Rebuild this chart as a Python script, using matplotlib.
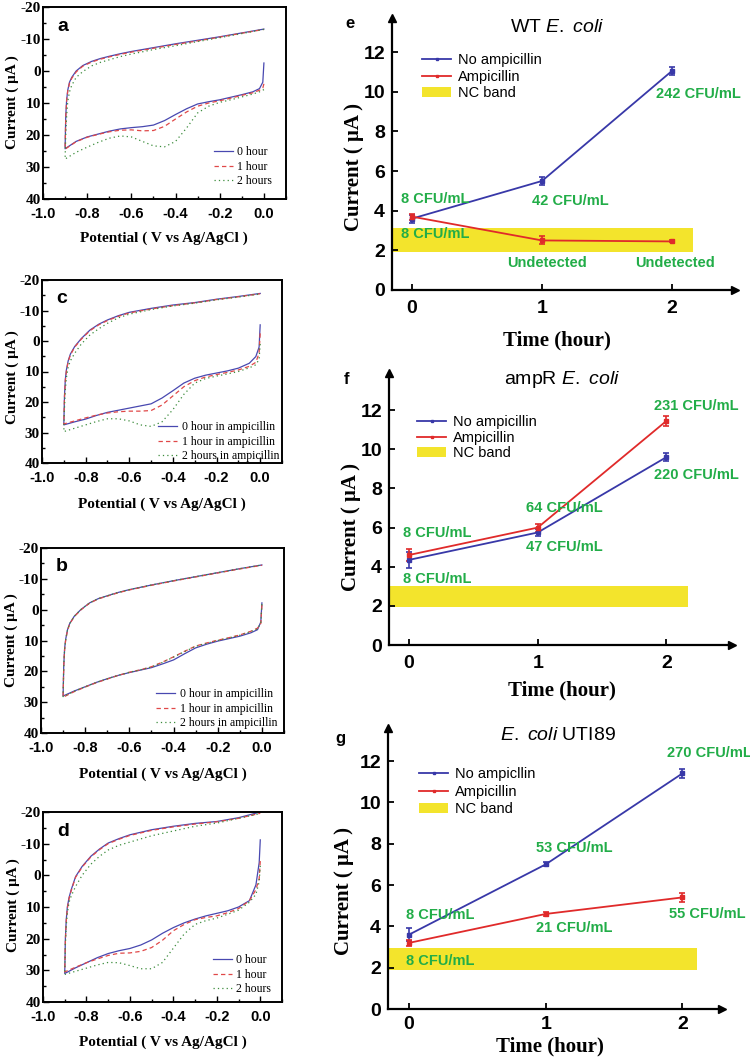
import numpy as np
import matplotlib.pyplot as plt
import matplotlib.ticker as tck
from matplotlib.lines import Line2D
from matplotlib.patches import Patch

plt.rcParams['axes.unicode_minus'] = False
plt.rcParams['mathtext.fontset'] = 'custom'
plt.rcParams['mathtext.rm'] = 'Liberation Sans'
plt.rcParams['mathtext.it'] = 'Liberation Sans:italic'

SERIF = 'Liberation Serif'
SANS = 'Liberation Sans'

# ---- cyclic voltammograms (potential grid shared by all curves) ----
# lower (cathodic) branch from 0.0 V to -0.9 V, then upper branch back to 0.0 V
E_low = [0.0, -0.005, -0.02, -0.05, -0.1, -0.15, -0.2, -0.25, -0.3, -0.35, -0.4,
         -0.45, -0.5, -0.55, -0.6, -0.65, -0.7, -0.75, -0.8, -0.85, -0.9]
E_high = [-0.9, -0.897, -0.893, -0.888, -0.88, -0.87, -0.85, -0.82, -0.78, -0.74,
          -0.7, -0.65, -0.6, -0.5, -0.4, -0.3, -0.2, -0.1, 0.0]

# panel a : 0, 1, 2 hours
a0_low = [-2.5, 3.5, 5.5, 6.5, 7.4, 8.2, 9.0, 9.6, 10.3, 11.8, 13.6, 15.5, 16.9, 17.4, 17.7, 18.1, 18.8, 19.7, 20.6, 22.0, 24.3]
a0_high = [24.3, 14.0, 9.0, 6.0, 3.5, 2.0, 0.0, -1.7, -3.0, -3.9, -4.6, -5.4, -6.1, -7.3, -8.5, -9.6, -10.7, -11.9, -13.1]
a1_low = [4.0, 5.3, 6.0, 6.8, 7.6, 8.5, 9.3, 10.0, 11.0, 12.8, 15.0, 17.3, 18.6, 18.7, 18.4, 18.5, 19.0, 19.8, 20.7, 22.1, 24.4]
a1_high = [24.4, 14.5, 9.3, 6.3, 3.8, 2.3, 0.3, -1.5, -2.8, -3.7, -4.4, -5.2, -5.9, -7.1, -8.3, -9.4, -10.6, -11.8, -13.0]
a2_low = [5.8, 6.0, 6.5, 7.2, 8.1, 9.0, 9.8, 11.0, 13.1, 17.8, 22.0, 23.7, 23.4, 22.0, 20.6, 20.3, 21.0, 22.3, 23.8, 25.4, 27.5]
a2_high = [27.5, 20.0, 14.0, 9.5, 6.5, 4.5, 2.0, 0.2, -1.6, -2.7, -3.5, -4.5, -5.3, -6.7, -7.9, -9.2, -10.4, -11.7, -13.0]

# panel c : 0, 1, 2 hours in ampicillin
c0_low = [-5.3, 2.0, 5.1, 7.3, 8.9, 9.8, 10.5, 11.2, 12.2, 13.8, 16.3, 18.7, 20.6, 21.3, 22.0, 22.7, 23.4, 24.4, 25.6, 26.5, 27.5]
c0_high = [27.5, 18.0, 12.5, 9.4, 6.5, 4.3, 1.8, -0.8, -3.6, -5.5, -6.9, -8.3, -9.4, -10.7, -11.8, -12.6, -13.7, -14.6, -15.6]
c1_low = [-2.5, 4.0, 7.0, 8.3, 9.5, 10.3, 11.0, 11.8, 13.0, 15.0, 18.0, 21.0, 22.8, 23.0, 23.0, 23.2, 23.6, 24.3, 25.2, 26.2, 27.2]
c1_high = [27.2, 18.5, 13.0, 9.8, 6.8, 4.6, 2.0, -0.6, -3.4, -5.3, -6.7, -8.1, -9.2, -10.5, -11.6, -12.5, -13.6, -14.5, -15.5]
c2_low = [1.0, 6.0, 7.8, 8.8, 10.0, 10.8, 11.5, 12.3, 13.8, 17.5, 22.5, 26.5, 28.0, 27.5, 26.2, 25.5, 25.5, 26.4, 27.5, 28.6, 29.7]
c2_high = [29.7, 22.0, 16.0, 12.0, 8.5, 6.5, 4.0, 1.0, -2.0, -4.0, -5.8, -7.6, -8.8, -10.3, -11.5, -12.4, -13.5, -14.4, -15.4]

# panel b : 0, 1, 2 hours in ampicillin
b0_low = [-2.2, 4.0, 6.5, 7.5, 8.6, 9.4, 10.2, 11.2, 12.4, 14.3, 16.3, 17.6, 18.8, 19.6, 20.4, 21.3, 22.4, 23.6, 25.0, 26.4, 28.0]
b0_high = [28.0, 18.0, 12.5, 9.5, 6.5, 4.5, 2.2, 0.0, -2.2, -3.6, -4.5, -5.6, -6.5, -8.0, -9.4, -10.7, -12.0, -13.3, -14.5]
b1_low = [-1.5, 4.5, 6.0, 7.0, 8.2, 9.1, 9.9, 10.8, 11.8, 13.5, 15.3, 17.0, 18.5, 19.5, 20.3, 21.3, 22.5, 23.7, 25.1, 26.6, 28.4]
b1_high = [28.4, 18.3, 12.8, 9.7, 6.7, 4.6, 2.3, 0.1, -2.1, -3.5, -4.4, -5.5, -6.4, -7.9, -9.3, -10.6, -11.9, -13.2, -14.4]
b2_low = [-1.8, 4.3, 6.2, 7.1, 8.3, 9.2, 10.0, 10.9, 11.9, 13.6, 15.4, 17.1, 18.6, 19.5, 20.3, 21.3, 22.4, 23.6, 25.0, 26.5, 28.2]
b2_high = [28.2, 18.2, 12.7, 9.6, 6.6, 4.5, 2.2, 0.0, -2.2, -3.6, -4.5, -5.6, -6.5, -8.0, -9.4, -10.7, -12.0, -13.3, -14.5]

# panel d : 0, 1, 2 hours
d0_low = [-11.2, -4.0, 3.0, 8.0, 10.0, 11.2, 12.0, 12.8, 13.8, 15.0, 16.5, 18.3, 20.4, 22.0, 23.1, 23.8, 24.7, 26.0, 27.6, 29.2, 31.0]
d0_high = [31.0, 20.0, 14.0, 10.0, 7.0, 4.5, 0.4, -2.8, -6.0, -8.3, -10.2, -11.6, -12.8, -14.4, -15.5, -16.4, -17.0, -18.2, -20.0]
d1_low = [-4.5, 1.0, 4.5, 8.0, 10.5, 11.8, 12.8, 13.3, 14.0, 15.5, 17.5, 20.5, 22.8, 24.0, 24.5, 24.6, 25.3, 26.4, 27.6, 29.0, 30.5]
d1_high = [30.5, 20.5, 14.5, 10.5, 7.3, 4.8, 0.6, -2.6, -5.8, -8.1, -10.0, -11.4, -12.6, -14.2, -15.3, -16.2, -16.9, -18.0, -19.6]
d2_low = [-3.0, 2.0, 6.0, 8.5, 11.0, 12.3, 13.5, 14.3, 15.5, 18.5, 23.0, 27.5, 29.5, 29.5, 28.5, 27.6, 27.5, 28.3, 29.3, 30.3, 31.3]
d2_high = [31.3, 22.0, 16.0, 12.0, 8.5, 6.5, 3.5, 0.0, -3.5, -6.0, -8.0, -9.5, -10.5, -12.5, -14.0, -15.5, -16.5, -18.0, -19.5]

cv_labels_plain = ['0 hour', '1 hour', '2 hours']
cv_labels_amp = ['0 hour in ampicillin', '1 hour in ampicillin', '2 hours in ampicillin']

# ---- current vs time ----
hours = [0, 1, 2]
e_noamp, e_noamp_err = [3.6, 5.5, 11.05], [0.2, 0.2, 0.2]
e_amp, e_amp_err = [3.7, 2.5, 2.45], [0.15, 0.2, 0.05]
f_noamp, f_noamp_err = [4.35, 5.75, 9.6], [0.4, 0.2, 0.2]
f_amp, f_amp_err = [4.6, 6.0, 11.45], [0.3, 0.2, 0.25]
g_noamp, g_noamp_err = [3.6, 7.0, 11.4], [0.3, 0.1, 0.2]
g_amp, g_amp_err = [3.2, 4.6, 5.4], [0.15, 0.1, 0.2]

e_notes = [('8 CFU/mL', -0.085, 4.6, 'left'), ('8 CFU/mL', -0.085, 2.8, 'left'),
           ('42 CFU/mL', 1.22, 4.5, 'center'), ('242 CFU/mL', 2.2, 9.9, 'center'),
           ('Undetected', 1.04, 1.35, 'center'), ('Undetected', 2.02, 1.35, 'center')]
f_notes = [('8 CFU/mL', -0.047, 5.7, 'left'), ('8 CFU/mL', -0.047, 3.35, 'left'),
           ('64 CFU/mL', 1.21, 7.0, 'center'), ('47 CFU/mL', 1.21, 5.0, 'center'),
           ('231 CFU/mL', 2.23, 12.2, 'center'), ('220 CFU/mL', 2.23, 8.7, 'center')]
g_notes = [('8 CFU/mL', -0.02, 4.55, 'left'), ('8 CFU/mL', -0.02, 2.3, 'left'),
           ('53 CFU/mL', 1.21, 7.8, 'center'), ('21 CFU/mL', 1.21, 3.9, 'center'),
           ('270 CFU/mL', 2.2, 12.4, 'center'), ('55 CFU/mL', 2.18, 4.6, 'center')]

W, H = 750, 1057
fig = plt.figure(figsize=(7.5, 10.57), dpi=100)

cv_blue, cv_red, cv_green = '#4848b0', '#e04848', '#3c8c3c'
blue, red, green, yellow = '#3838a8', '#e02a2a', '#22ad48', '#f3e42c'


def add_ax(l, t, r, b):
    return fig.add_axes([l / W, 1 - b / H, (r - l) / W, (b - t) / H])


def ftext(x, y, s, **kw):
    fig.text(x / W, 1 - y / H, s, **kw)


def plot_cv(box, letter, curves, labels, leg_xy, ylab_xy, xlab_xy):
    ax = add_ax(*box)
    styles = [dict(color=cv_blue, ls='-'),
              dict(color=cv_red, ls=(0, (3.5, 2.5))),
              dict(color=cv_green, ls=(0, (1, 2.5)))]
    for (low, high), lab, st in zip(curves, labels, styles):
        ax.plot(E_low + E_high, low + high, lw=0.9, label=lab, **st)
    ax.set_xlim(-1.0, 0.1)
    ax.set_ylim(40, -20)
    ax.xaxis.set_major_locator(tck.MultipleLocator(0.2))
    ax.xaxis.set_minor_locator(tck.MultipleLocator(0.1))
    ax.yaxis.set_major_locator(tck.MultipleLocator(10))
    ax.yaxis.set_minor_locator(tck.MultipleLocator(5))
    ax.xaxis.set_major_formatter(tck.FormatStrFormatter('%.1f'))
    ax.tick_params(which='both', direction='in', top=False, right=False, width=1.0)
    ax.tick_params(which='major', length=4)
    ax.tick_params(which='minor', length=2.5)
    ax.tick_params(axis='x', pad=5.5)
    ax.tick_params(axis='y', pad=1.5)
    for sp in ax.spines.values():
        sp.set_linewidth(1.4)
    for lb in ax.get_xticklabels():
        lb.set_fontfamily(SANS)
        lb.set_fontweight('bold')
        lb.set_fontsize(10.5)
    for lb in ax.get_yticklabels():
        lb.set_fontfamily(SERIF)
        lb.set_fontweight('bold')
        lb.set_fontsize(11)
    ax.legend(loc='lower right', bbox_to_anchor=(leg_xy[0] / W, 1 - leg_xy[1] / H),
              bbox_transform=fig.transFigure, frameon=False, borderpad=0,
              borderaxespad=0, handlelength=1.6, handletextpad=0.35, labelspacing=0.2,
              prop=dict(family=SERIF, size=8.5))
    ax.text(0.06, 0.9, letter, transform=ax.transAxes, fontfamily=SANS,
            fontweight='bold', fontsize=14, va='center', ha='left')
    ftext(ylab_xy[0], ylab_xy[1], 'Current ( μA )', rotation=90, ha='center', va='center',
          fontfamily=SERIF, fontweight='bold', fontsize=11)
    ftext(xlab_xy[0], xlab_xy[1], 'Potential ( V vs Ag/AgCl )', ha='center', va='center',
          fontfamily=SERIF, fontweight='bold', fontsize=11)
    return ax


plot_cv((43, 7, 286, 199), 'a', [(a0_low, a0_high), (a1_low, a1_high), (a2_low, a2_high)],
        cv_labels_plain, (272, 187), (12, 102), (164, 238))
plot_cv((42, 280, 282, 463), 'c', [(c0_low, c0_high), (c1_low, c1_high), (c2_low, c2_high)],
        cv_labels_amp, (279, 462), (12, 377), (162, 504))
plot_cv((41, 548, 284, 733), 'b', [(b0_low, b0_high), (b1_low, b1_high), (b2_low, b2_high)],
        cv_labels_amp, (277, 729), (11, 640), (163, 774))
plot_cv((43, 812, 282, 1002), 'd', [(d0_low, d0_high), (d1_low, d1_high), (d2_low, d2_high)],
        cv_labels_plain, (271, 995), (13, 905), (163, 1042))


def plot_time(box, xlim, ylim, band, title, letter, noamp, noamp_err, amp, amp_err,
              notes, noamp_label, leg_xy, leg_space, ylab_xy, xlab_xy, letter_xy, title_xy,
              xpad=7):
    ax = add_ax(*box)
    ax.set_xlim(*xlim)
    ax.set_ylim(*ylim)
    ax.fill_between([xlim[0], band[2]], band[0], band[1], color=yellow, lw=0, zorder=1)
    ax.errorbar(hours, noamp, yerr=noamp_err, color=blue, lw=1.3, marker='s', ms=2.5,
                capsize=2.5, elinewidth=1.2, capthick=1.2, zorder=3)
    ax.errorbar(hours, amp, yerr=amp_err, color=red, lw=1.3, marker='s', ms=2.5,
                capsize=2.5, elinewidth=1.2, capthick=1.2, zorder=3)
    for s, x, y, ha in notes:
        ax.text(x, y, s, ha=ha, va='center', color=green, fontfamily=SANS,
                fontweight='bold', fontsize=10.5, zorder=4)
    ax.spines['top'].set_visible(False)
    ax.spines['right'].set_visible(False)
    for sp in ('left', 'bottom'):
        ax.spines[sp].set_linewidth(1.6)
    ax.plot(1, 0, '>k', ms=6, transform=ax.get_yaxis_transform(), clip_on=False)
    ax.plot(0, 1, '^k', ms=6, transform=ax.transAxes, clip_on=False)
    ax.set_xticks(hours)
    ax.set_yticks([0, 2, 4, 6, 8, 10, 12])
    ax.tick_params(direction='in', length=4, width=1.3)
    ax.tick_params(axis='x', pad=xpad)
    ax.tick_params(axis='y', pad=5)
    for lb in ax.get_xticklabels() + ax.get_yticklabels():
        lb.set_fontfamily(SANS)
        lb.set_fontweight('bold')
        lb.set_fontsize(14)
    handles = [Line2D([], [], color=blue, lw=1.3, marker='s', ms=2),
               Line2D([], [], color=red, lw=1.3, marker='s', ms=2),
               Patch(facecolor=yellow, edgecolor='none')]
    ax.legend(handles, [noamp_label, 'Ampicillin', 'NC band'], loc='upper left',
              bbox_to_anchor=(leg_xy[0] / W, 1 - leg_xy[1] / H), bbox_transform=fig.transFigure,
              frameon=False, borderpad=0, borderaxespad=0, handlelength=2.0,
              handletextpad=0.5, labelspacing=leg_space, prop=dict(family=SANS, size=10.5))
    ftext(letter_xy[0], letter_xy[1], letter, ha='center', va='center', fontfamily=SANS,
          fontweight='bold', fontsize=12)
    ftext(title_xy[0], title_xy[1], title, ha='center', va='center', fontfamily=SANS, fontsize=14)
    ftext(ylab_xy[0], ylab_xy[1], 'Current ( μA )', rotation=90, ha='center', va='center',
          fontfamily=SERIF, fontweight='bold', fontsize=15)
    ftext(xlab_xy[0], xlab_xy[1], 'Time (hour)', ha='center', va='center',
          fontfamily=SERIF, fontweight='bold', fontsize=15)
    return ax


plot_time((392, 18, 735, 290), (-0.154, 2.485), (0, 13.72), (1.92, 3.13, 2.16),
          r'WT $\mathit{E.}$ $\mathit{coli}$', 'e', e_noamp, e_noamp_err, e_amp, e_amp_err, e_notes,
          'No ampicillin', (422, 53), 0.18, (354, 167), (557, 340), (350, 23), (557, 27))
plot_time((389, 373, 732, 645), (-0.156, 2.51), (0, 13.9), (1.94, 3.0, 2.17),
          r'ampR $\mathit{E.}$ $\mathit{coli}$', 'f', f_noamp, f_noamp_err, f_amp, f_amp_err, f_notes,
          'No ampicillin', (417, 415), 0.12, (351, 527), (562, 690), (347, 379), (562, 379))
plot_time((388, 728, 722, 1009), (-0.154, 2.29), (0, 13.6), (1.9, 2.96, 2.11),
          r'$\mathit{E.}$ $\mathit{coli}$ UTI89', 'g', g_noamp, g_noamp_err, g_amp, g_amp_err, g_notes,
          'No ampicllin', (419, 767), 0.25, (344, 891), (550, 1046), (340, 738), (558, 735),
          xpad=5)

fig.savefig('out.png', dpi=100)
